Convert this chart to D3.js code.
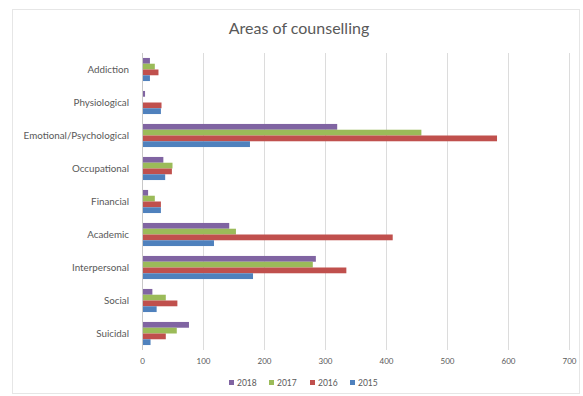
<!DOCTYPE html>
<html><head><meta charset="utf-8">
<script src="https://cdn.jsdelivr.net/npm/d3@7"></script>
<style>body{margin:0;background:#fff;}</style>
</head><body>
<svg id="c" width="583" height="396"></svg>
<script>
const categories = ["Addiction","Physiological","Emotional/Psychological","Occupational","Financial","Academic","Interpersonal","Social","Suicidal"];
const seriesNames = ["2018","2017","2016","2015"];
const v2018 = [13, 5, 320, 35, 10, 143, 285, 17, 77];
const v2017 = [21, 0, 458, 50, 21, 154, 280, 39, 57];
const v2016 = [27, 32, 582, 49, 31, 411, 335, 58, 39];
const v2015 = [13, 31, 177, 38, 31, 118, 182, 24, 14];
const xTicks = [0,100,200,300,400,500,600,700];
const colors = ["#8064A2","#9BBB59","#C0504D","#4F81BD"];
const seriesVals = [v2018, v2017, v2016, v2015];

const svg = d3.select("#c");
const font = "Lato, 'Open Sans', sans-serif";
svg.append("rect").attr("x",12.5).attr("y",9.5).attr("width",567).attr("height",384)
  .attr("fill","#fff").attr("stroke","#e6e6e6");

const x = d3.scaleLinear().domain([0,700]).range([142,569]);
const y = d3.scaleBand().domain(categories).range([53,350]).paddingInner(0.3).paddingOuter(0.15);
const y1 = d3.scaleBand().domain(seriesNames).range([0,y.bandwidth()]);

// gridlines
svg.append("g").selectAll("line").data(xTicks.slice(1)).join("line")
  .attr("x1",d=>x(d)+0.5).attr("x2",d=>x(d)+0.5).attr("y1",53).attr("y2",350)
  .attr("stroke","#dcdcdc").attr("stroke-width",1);

// bars
const g = svg.append("g");
categories.forEach((c,i)=>{
  seriesNames.forEach((s,j)=>{
    g.append("rect").attr("x",x(0)).attr("y",y(c)+y1(s))
      .attr("width",x(seriesVals[j][i])-x(0)).attr("height",y1.bandwidth())
      .attr("fill",colors[j]);
  });
});

// axis line at zero
svg.append("line").attr("x1",x(0)+0.5).attr("x2",x(0)+0.5).attr("y1",53).attr("y2",350).attr("stroke","#c8c8c8");

// x axis
const xa = svg.append("g").attr("transform","translate(0,350)")
  .call(d3.axisBottom(x).tickValues(xTicks).tickSize(0).tickPadding(8));
xa.select(".domain").remove();
xa.selectAll("text").attr("fill","#595959").style("font-family",font).style("font-size","8px");

// y axis
const ya = svg.append("g").attr("transform","translate(142,0)")
  .call(d3.axisLeft(y).tickSize(0).tickPadding(13));
ya.select(".domain").remove();
ya.selectAll("text").attr("fill","#595959").style("font-family",font).style("font-size","9.8px");

// title
svg.append("text").attr("x",299).attr("y",34).attr("text-anchor","middle")
  .attr("fill","#595959").style("font-family",font).style("font-size","16px").text("Areas of counselling");

// legend
const legX = [229, 269, 310, 350];
const lg = svg.append("g");
seriesNames.forEach((s,j)=>{
  lg.append("rect").attr("x",legX[j]).attr("y",380).attr("width",5).attr("height",5).attr("fill",colors[j]);
  lg.append("text").attr("x",legX[j]+8).attr("y",385.5).attr("fill","#595959")
    .style("font-family",font).style("font-size","8.5px").text(s);
});
</script>
</body></html>
